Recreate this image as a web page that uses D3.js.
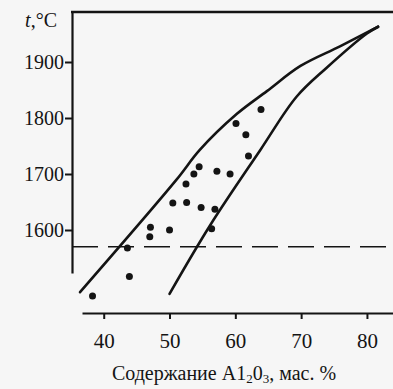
<!DOCTYPE html>
<html><head><meta charset="utf-8">
<script src="https://cdn.jsdelivr.net/npm/d3@7"></script>
<style>
html,body{margin:0;padding:0;background:#f6f6f6;}
svg{display:block;font-family:"Liberation Serif","Times New Roman",serif;}
</style></head>
<body>
<svg id="chart" width="393" height="389"></svg>
<script>
// Data
const xTicks = [40, 50, 60, 70, 80];
const yTicks = [1600, 1700, 1800, 1900];
const pointsAl2O3 = [38.3, 43.9, 43.6, 47.0, 47.1, 50.0, 50.5, 52.6, 54.8, 52.5, 53.7, 54.5, 57.2, 59.2, 56.9, 56.4, 62.0, 61.6, 60.1, 63.9];
const pointsTemp  = [1482, 1517, 1568, 1588, 1605, 1600, 1648, 1649, 1640, 1682, 1700, 1713, 1705, 1700, 1637, 1602, 1732, 1770, 1790, 1815];
const upperLineX = [36.4, 51.0, 54.6, 60.2, 64.8, 69.9, 75.9, 81.7];
const upperLineT = [1489, 1689, 1743, 1807, 1848, 1893, 1928, 1963];
const lowerLineX = [50.0, 56.2, 63.8, 69.3, 73.8, 80.0, 81.7];
const lowerLineT = [1486, 1609, 1743, 1838, 1889, 1951, 1963];
const dashedTemp = 1570;
const xDomain = [36.70, 83.96];
const yDomain = [1523.2, 1989.3];
const yLabel = "t";
const xTitleParts = ["Содержание A1", "2", "0", "3", ", мас. %"];

const svg = d3.select("#chart");
const mLeft = 72, mRight = 393, mTop = 12, mBottom = 273, xAxisY = 313, xStart = 82;

const x = d3.scaleLinear().domain(xDomain).range([xStart, mRight]);
const y = d3.scaleLinear().domain(yDomain).range([mBottom, mTop]);

const ink = "#141414";

// left axis
const gy = svg.append("g").attr("transform", `translate(${mLeft},0)`)
  .call(d3.axisLeft(y).tickValues(yTicks).tickSizeOuter(0).tickSizeInner(7).tickPadding(1).tickFormat(d3.format("d")));
gy.select(".domain").attr("stroke", ink).attr("stroke-width", 2.2);
gy.selectAll(".tick line").attr("stroke", ink).attr("stroke-width", 2);
gy.selectAll(".tick text").attr("fill", ink).style("font-size", "20px").style("font-family", "Liberation Serif");

// top frame line
svg.append("line").attr("x1", mLeft - 1).attr("x2", mRight).attr("y1", y(yDomain[1])).attr("y2", y(yDomain[1]))
  .attr("stroke", ink).attr("stroke-width", 2.6);

// bottom axis
const gx = svg.append("g").attr("transform", `translate(0,${xAxisY})`)
  .call(d3.axisBottom(x).tickValues(xTicks).tickSizeOuter(0).tickSizeInner(6).tickPadding(14).tickFormat(d3.format("d")));
gx.select(".domain").attr("stroke", ink).attr("stroke-width", 2);
gx.selectAll(".tick line").attr("stroke", ink).attr("stroke-width", 2);
gx.selectAll(".tick text").attr("fill", ink).style("font-size", "21px").style("font-family", "Liberation Serif");

// dashed line
svg.append("line").attr("x1", mLeft).attr("x2", mRight).attr("y1", y(dashedTemp)).attr("y2", y(dashedTemp))
  .attr("stroke", ink).attr("stroke-width", 1.6).attr("stroke-dasharray", "26,10");

// curves
const line = d3.line().x(d => x(d[0])).y(d => y(d[1])).curve(d3.curveCatmullRom.alpha(0.5));
const upper = upperLineX.map((v, i) => [v, upperLineT[i]]);
const lower = lowerLineX.map((v, i) => [v, lowerLineT[i]]);
[upper, lower].forEach(pts => {
  svg.append("path").attr("d", line(pts)).attr("fill", "none").attr("stroke", ink)
    .attr("stroke-width", 2.6).attr("stroke-linecap", "round").attr("stroke-linejoin", "round");
});

// points
svg.append("g").selectAll("circle").data(pointsAl2O3.map((v, i) => [v, pointsTemp[i]])).join("circle")
  .attr("cx", d => x(d[0])).attr("cy", d => y(d[1])).attr("r", 3.5).attr("fill", ink);

// y label
const yl = svg.append("text").attr("x", 57).attr("y", 27).attr("text-anchor", "end")
  .attr("fill", ink).style("font-size", "20px");
yl.append("tspan").style("font-style", "italic").text(yLabel);
yl.append("tspan").text(",°C");

// x title
const t = svg.append("text").attr("x", 224).attr("y", 380).attr("text-anchor", "middle")
  .attr("fill", ink).style("font-size", "20px");
t.append("tspan").text(xTitleParts[0]);
t.append("tspan").attr("dy", 3).style("font-size", "13px").text(xTitleParts[1]);
t.append("tspan").attr("dy", -3).text(xTitleParts[2]);
t.append("tspan").attr("dy", 3).style("font-size", "13px").text(xTitleParts[3]);
t.append("tspan").attr("dy", -3).text(xTitleParts[4]);
</script>
</body></html>
